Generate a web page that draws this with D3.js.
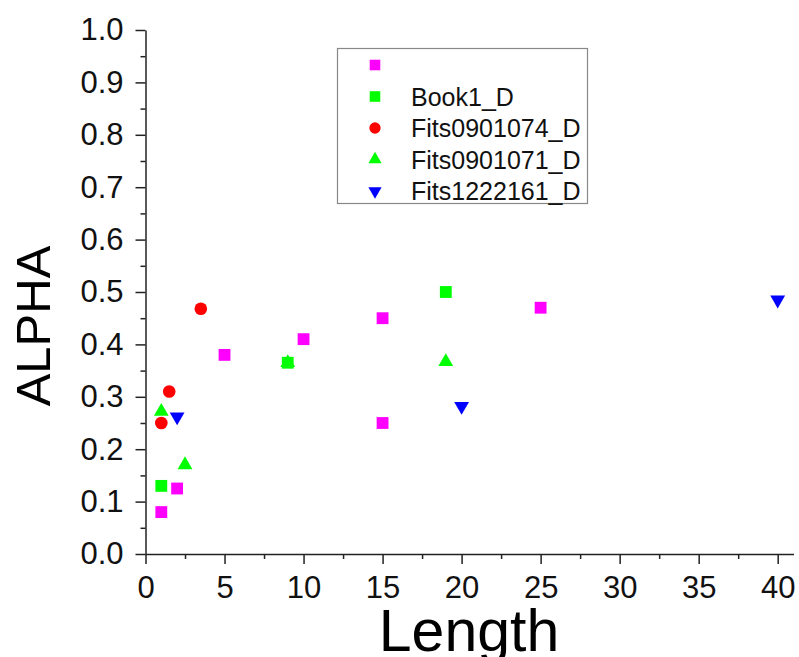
<!DOCTYPE html>
<html>
<head>
<meta charset="utf-8">
<script src="https://cdn.jsdelivr.net/npm/d3@7"></script>
<style>
  html, body { margin: 0; padding: 0; background: #fff; }
  svg { display: block; font-family: 'Liberation Sans', Arial, sans-serif; }
  .axis path, .axis line { stroke: #222; stroke-width: 1.5px; }
  .axis text { fill: #111; font-size: 31px; }
  .legend text { font-size: 25px; fill: #111; }
</style>
</head>
<body>
<svg id="chart" width="799" height="657"></svg>
<script>
// Unnamed magenta series (first legend entry has no label)
const seriesMagentaX = [1, 2, 5, 10, 15, 15, 25];
const seriesMagentaY = [0.08, 0.125, 0.38, 0.41, 0.45, 0.25, 0.47];

const book1X = [1, 9, 19];
const book1Y = [0.13, 0.365, 0.50];

const fits0901074X = [1, 1.5, 3.5];
const fits0901074Y = [0.25, 0.31, 0.468];

const fits0901071X = [1, 2.5, 9, 19];
const fits0901071Y = [0.272, 0.17, 0.365, 0.367];

const fits1222161X = [2, 20, 40];
const fits1222161Y = [0.262, 0.282, 0.485];

const legendLabels = ['', 'Book1_D', 'Fits0901074_D', 'Fits0901071_D', 'Fits1222161_D'];

const xMajorTicks = [0, 5, 10, 15, 20, 25, 30, 35, 40];
const xMinorTicks = [2.5, 7.5, 12.5, 17.5, 22.5, 27.5, 32.5, 37.5];
const yMajorTicks = [0, 0.1, 0.2, 0.3, 0.4, 0.5, 0.6, 0.7, 0.8, 0.9, 1.0];
const yMinorTicks = [0.05, 0.15, 0.25, 0.35, 0.45, 0.55, 0.65, 0.75, 0.85, 0.95];

// Series table built from the arrays above
const series = [
  { name: legendLabels[0], xs: seriesMagentaX, ys: seriesMagentaY, color: '#ff00ff', shape: d3.symbolSquare, size: 140, rotate: 0 },
  { name: legendLabels[1], xs: book1X, ys: book1Y, color: '#00ff00', shape: d3.symbolSquare, size: 140, rotate: 0 },
  { name: legendLabels[2], xs: fits0901074X, ys: fits0901074Y, color: '#ff0000', shape: d3.symbolCircle, size: 125, rotate: 0 },
  { name: legendLabels[3], xs: fits0901071X, ys: fits0901071Y, color: '#00ff00', shape: d3.symbolTriangle, size: 95, rotate: 0 },
  { name: legendLabels[4], xs: fits1222161X, ys: fits1222161Y, color: '#0000ff', shape: d3.symbolTriangle, size: 95, rotate: 180 },
];

const svg = d3.select('#chart');

const xScale = d3.scaleLinear().domain([0, 41]).range([145.5, 793.5]);
const yScale = d3.scaleLinear().domain([0, 1]).range([554, 30]);

/**
 * Draw left and bottom axes, with major (labelled) and minor ticks
 */
function drawAxes() {
  const fmtY = d3.format('.1f');

  const xAxisGroup = svg.append('g')
    .attr('class', 'axis x-axis')
    .attr('transform', `translate(0,${yScale(0)})`);
  xAxisGroup.call(d3.axisBottom(xScale)
    .tickValues(xMajorTicks)
    .tickSize(10)
    .tickSizeOuter(0)
    .tickPadding(12)
    .tickFormat(d3.format('d')));
  xAxisGroup.append('g').call(d3.axisBottom(xScale)
    .tickValues(xMinorTicks)
    .tickSize(5)
    .tickSizeOuter(0)
    .tickFormat(''))
    .select('path').remove();

  const yAxisGroup = svg.append('g')
    .attr('class', 'axis y-axis')
    .attr('transform', `translate(${xScale(0)},0)`);
  yAxisGroup.call(d3.axisLeft(yScale)
    .tickValues(yMajorTicks)
    .tickSize(10)
    .tickSizeOuter(0)
    .tickPadding(12)
    .tickFormat(fmtY));
  yAxisGroup.append('g').call(d3.axisLeft(yScale)
    .tickValues(yMinorTicks)
    .tickSize(5)
    .tickSizeOuter(0)
    .tickFormat(''))
    .select('path').remove();

  // Axis titles
  svg.append('text')
    .attr('x', 469)
    .attr('y', 651)
    .attr('text-anchor', 'middle')
    .style('font-size', '59px')
    .text('Length');

  svg.append('text')
    .attr('transform', 'translate(50,326) rotate(-90)')
    .attr('text-anchor', 'middle')
    .style('font-size', '49px')
    .text('ALPHA');
}

/**
 * Draw the scatter markers for every series
 */
function drawPoints() {
  const groups = svg.selectAll('g.series')
    .data(series)
    .enter().append('g')
    .attr('class', 'series');

  groups.selectAll('path')
    .data((s) => s.xs.map((x, i) => ({ x, y: s.ys[i], s })))
    .enter().append('path')
    .attr('d', (d) => d3.symbol().type(d.s.shape).size(d.s.size)())
    .attr('fill', (d) => d.s.color)
    .attr('transform', (d) => `translate(${xScale(d.x)},${yScale(d.y)}) rotate(${d.s.rotate})`);
}

/**
 * Legend box in the upper middle of the plot
 */
function drawLegend() {
  const legend = svg.append('g').attr('class', 'legend');

  legend.append('rect')
    .attr('x', 337.5)
    .attr('y', 48.5)
    .attr('width', 250)
    .attr('height', 155)
    .attr('fill', '#fff')
    .attr('stroke', '#888')
    .attr('stroke-width', 1.2);

  const rows = legend.selectAll('g.row')
    .data(series)
    .enter().append('g')
    .attr('class', 'row')
    .attr('transform', (d, i) => `translate(375,${65 + i * 31.5})`);

  rows.append('path')
    .attr('d', (d) => d3.symbol().type(d.shape).size(d.size * 0.8)())
    .attr('fill', (d) => d.color)
    .attr('transform', (d) => `rotate(${d.rotate})`);

  rows.append('text')
    .attr('x', 36)
    .attr('dy', '0.36em')
    .text((d) => d.name);
}

drawAxes();
drawPoints();
drawLegend();
</script>
</body>
</html>
